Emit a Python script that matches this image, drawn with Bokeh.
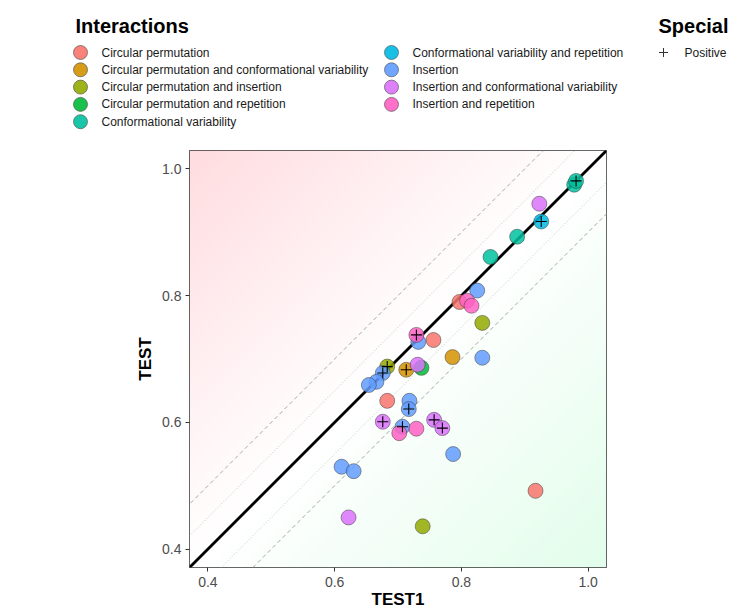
import numpy as np
from bokeh.plotting import figure
from bokeh.models import Range1d, FixedTicker, Slope, ColumnDataSource
from bokeh.layouts import column
from bokeh.core.properties import value
from bokeh.embed import file_html
from bokeh.resources import INLINE

# ---------------- data ----------------
categories = [
    "Circular permutation",
    "Circular permutation and conformational variability",
    "Circular permutation and insertion",
    "Circular permutation and repetition",
    "Conformational variability",
    "Conformational variability and repetition",
    "Insertion",
    "Insertion and conformational variability",
    "Insertion and repetition",
]
palette = ["#F8766D", "#D39200", "#93AA00", "#00BA38", "#00C19F",
           "#00B9E3", "#619CFF", "#DB72FB", "#FF61C3"]

interaction = (
    ["Circular permutation"] * 4
    + ["Circular permutation and conformational variability"] * 2
    + ["Circular permutation and insertion"] * 3
    + ["Circular permutation and repetition"] * 1
    + ["Conformational variability"] * 4
    + ["Conformational variability and repetition"] * 1
    + ["Insertion"] * 12
    + ["Insertion and conformational variability"] * 6
    + ["Insertion and repetition"] * 5
)
test1 = [0.797, 0.756, 0.683, 0.917,
         0.786, 0.713,
         0.833, 0.683, 0.739,
         0.737,
         0.978, 0.981, 0.888, 0.846,
         0.926,
         0.825, 0.732, 0.833, 0.676, 0.666, 0.654, 0.718, 0.717, 0.707, 0.787, 0.611, 0.630,
         0.923, 0.731, 0.676, 0.757, 0.770, 0.622,
         0.809, 0.816, 0.729, 0.702, 0.729]
test = [0.790, 0.730, 0.634, 0.492,
        0.703, 0.683,
        0.757, 0.688, 0.436,
        0.686,
        0.975, 0.981, 0.893, 0.861,
        0.917,
        0.808, 0.727, 0.702, 0.678, 0.664, 0.659, 0.634, 0.621, 0.593, 0.550, 0.530, 0.523,
        0.945, 0.691, 0.601, 0.604, 0.591, 0.450,
        0.792, 0.784, 0.738, 0.583, 0.590]
positive = [False, False, False, False,
            False, True,
            False, True, False,
            False,
            False, True, False, False,
            True,
            False, False, False, True, False, False, False, True, True, False, False, False,
            False, False, True, True, True, False,
            False, False, True, False, False]

ticks = [0.4, 0.6, 0.8, 1.0]
tick_labels = ["0.4", "0.6", "0.8", "1.0"]
special_label = "Positive"

FONT = "Liberation Sans"
W = 751
LEG_H = 143
MAIN_H = 616 - LEG_H
LO, HI = 0.371, 1.029

# ---------------- legend figure ----------------
leg = figure(width=W, height=LEG_H, x_range=Range1d(0, W), y_range=Range1d(LEG_H, 0),
             output_backend="svg", toolbar_location=None, min_border=0,
             x_axis_location=None, y_axis_location=None)
leg.outline_line_color = None
leg.grid.visible = False
leg.frame_align = False

ncat = len(categories)
cols = [i // 5 for i in range(ncat)]
rows = [i % 5 for i in range(ncat)]
lx = [80 + c * 311 for c in cols]
ly = [52 + r * 17.3 for r in rows]
leg.scatter(lx, ly, size=14, fill_color=palette, fill_alpha=0.9,
            line_color="#444444", line_width=0.6)
leg.text([x + 21 for x in lx], ly, text=categories, text_font=value(FONT),
         text_font_size="12px", text_baseline="middle", text_align="left",
         text_color="#1a1a1a")
leg.text([75, 658], [25, 25], text=["Interactions", "Special"], text_font=value(FONT),
         text_font_size="20px", text_font_style="bold", text_baseline="middle",
         text_align="left", text_color="black")
leg.scatter([663], [52], marker="cross", size=9, line_color="#333333", line_width=1)
leg.text([684], [52], text=[special_label], text_font=value(FONT),
         text_font_size="12px", text_baseline="middle", text_align="left",
         text_color="#1a1a1a")

# ---------------- main figure ----------------
p = figure(width=W, height=MAIN_H, x_range=Range1d(LO, HI), y_range=Range1d(LO, HI),
           output_backend="svg", toolbar_location=None,
           min_border_left=189, min_border_right=145, min_border_top=7, min_border_bottom=49)
p.frame_align = False
p.grid.visible = False
p.outline_line_color = "#333333"
p.outline_line_width = 1
p.background_fill_color = "white"

# diagonal background gradient
n = 300
g = np.linspace(LO, HI, n)
X, Y = np.meshgrid(g, g)
d = (Y - X) / (HI - LO)
t = np.clip(d, 0, 1)[..., None]
u = np.clip(-d, 0, 1)[..., None]
pink = np.array([255, 220, 224])
green = np.array([226, 253, 235])
rgb = 255 * (1 - t - u) + pink * t + green * u
img = np.empty((n, n, 4), dtype=np.uint8)
img[..., :3] = np.round(rgb).astype(np.uint8)
img[..., 3] = 255
p.image_rgba(image=[img.view(np.uint32).reshape(n, n)], x=LO, y=LO,
             dw=HI - LO, dh=HI - LO, level="image")

# reference lines
p.add_layout(Slope(gradient=1, y_intercept=0.1, line_color="#A8A8A8", line_dash="4 3",
                   line_width=1, level="underlay"))
p.add_layout(Slope(gradient=1, y_intercept=-0.1, line_color="#A0A8A0", line_dash="4 3",
                   line_width=1, level="underlay"))
p.add_layout(Slope(gradient=1, y_intercept=0.05, line_color="#C4C4C4", line_dash="1 2",
                   line_width=1, level="underlay"))
p.add_layout(Slope(gradient=1, y_intercept=-0.05, line_color="#C4C4C4", line_dash="1 2",
                   line_width=1, level="underlay"))
p.add_layout(Slope(gradient=1, y_intercept=0, line_color="black", line_width=2.8,
                   level="underlay"))

src = ColumnDataSource(dict(
    x=test1, y=test,
    color=[palette[categories.index(c)] for c in interaction],
))
p.scatter("x", "y", source=src, size=15, fill_color="color", fill_alpha=0.85,
          line_color="#333333", line_alpha=0.8, line_width=0.6)
px = [x for x, f in zip(test1, positive) if f]
py = [y for y, f in zip(test, positive) if f]
p.scatter(px, py, marker="cross", size=11, line_color="black", line_width=1.1)

for ax in (p.xaxis, p.yaxis):
    ax.ticker = FixedTicker(ticks=ticks)
    ax.major_label_overrides = {v: s for v, s in zip(ticks, tick_labels)}
    ax.axis_line_color = None
    ax.major_tick_line_color = "#333333"
    ax.major_tick_out = 4
    ax.major_tick_in = 0
    ax.minor_tick_line_color = None
    ax.major_label_text_font = FONT
    ax.major_label_text_font_size = "14px"
    ax.major_label_text_color = "#4D4D4D"
    ax.axis_label_text_font = FONT
    ax.axis_label_text_font_size = "17px"
    ax.axis_label_text_font_style = "bold"
    ax.axis_label_text_color = "black"

p.xaxis.axis_label = "TEST1"
p.yaxis.axis_label = "TEST"
p.xaxis.major_label_standoff = 5
p.xaxis.axis_label_standoff = 0
p.yaxis.major_label_standoff = 4
p.yaxis.axis_label_standoff = 4

layout = column(leg, p, spacing=0)
open("out.html", "w").write(file_html(layout, INLINE))
